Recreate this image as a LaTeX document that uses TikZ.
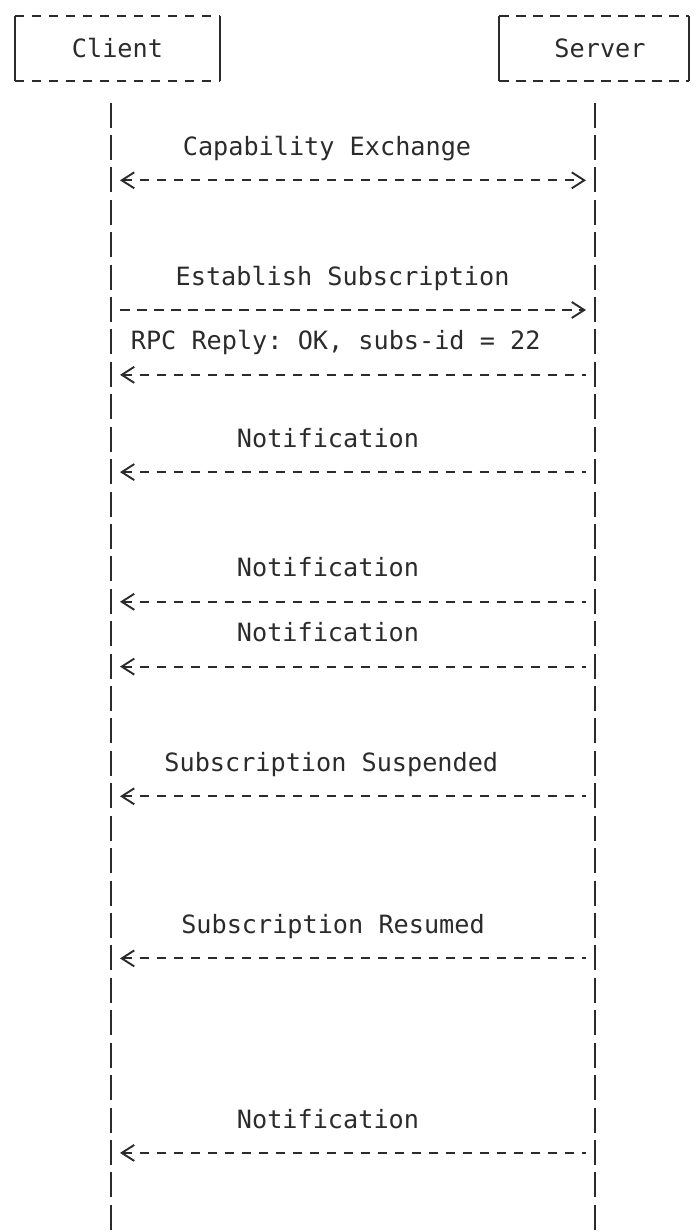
\documentclass[tikz,border=0pt]{standalone}
\usepackage{fontspec}
\setmonofont{DejaVu Sans Mono}
\usetikzlibrary{arrows.meta}
\definecolor{ink}{HTML}{2B2B2B}

\begin{document}
\begin{tikzpicture}[x=1pt, y=-1pt,
		>={Straight Barb[length=12.5pt, width=16pt]},
		declare function={rowy(\k)=(\k-0.5)*32.42;},
		every node/.style={text=ink, font={\fontsize{25.2}{30}\ttfamily}, inner sep=0pt},
		actor/.style={minimum height=65pt, text height=18.4pt, text depth=0pt},
		stroke/.style={draw=ink, line width=1.9pt},
		dashline/.style={stroke, dash pattern=on 9.5pt off 7.5pt},
		lifeline/.style={stroke, dash pattern=on 25pt off 7.42pt},
		msg/.style={dashline, shorten <=9pt, shorten >=9pt}]
	\useasboundingbox (0,0) rectangle (696,1232);
	
	% Boxes
	\node[actor, minimum width=205pt] (client) at (117.5,48.5) {Client};
	\node[actor, minimum width=189pt] (server) at (594,48.5) {\hspace*{12pt}Server};
	
	\foreach \b in {client,server} {
		\draw[dashline] (\b.north west) -- (\b.north east);
		\draw[dashline] (\b.south west) -- (\b.south east);
		\draw[stroke] (\b.north west) -- (\b.south west);
		\draw[stroke] (\b.north east) -- (\b.south east);
	}
	
	% Lifelines
	\coordinate (clTop) at (111,102.5);
	\coordinate (clEnd) at (111,1232);
	\coordinate (svTop) at (595,102.5);
	\coordinate (svEnd) at (595,1232);
	\draw[lifeline] (clTop) -- (clEnd);
	\draw[lifeline] (svTop) -- (svEnd);
	
	% Message rows
	\foreach \r in {6,10,12,15,19,21,25,30,36} {
		\coordinate (cl\r) at (111,{rowy(\r)+2});
		\coordinate (sv\r) at (595,{rowy(\r)+2});
	}
	
	% Messages
	\draw[msg, <->] (cl6) -- (sv6);
	\draw[msg, ->] (cl10) -- (sv10);
	\foreach \r in {12,15,19,21,25,30,36}
	\draw[msg, <-] (cl\r) -- (sv\r);
	
	% Labels
	\node[anchor=base] (capex) at (327,{rowy(5)+9.5}) {Capability Exchange};
	\node[anchor=base] (estsub) at (342.6,{rowy(9)+9.5}) {Establish Subscription};
	\node[anchor=base] (rpcok) at (335.7,{rowy(11)+9.5}) {RPC Reply: OK, subs-id = 22};
	\foreach \r in {14,18,20,35}
	\node[anchor=base] (notif\r) at (328,{rowy(\r)+9.5}) {Notification};
	\node[anchor=base] (susp) at (331.3,{rowy(24)+9.5}) {Subscription Suspended};
	\node[anchor=base] (resum) at (333,{rowy(29)+9.5}) {Subscription Resumed};
\end{tikzpicture}
\end{document}
